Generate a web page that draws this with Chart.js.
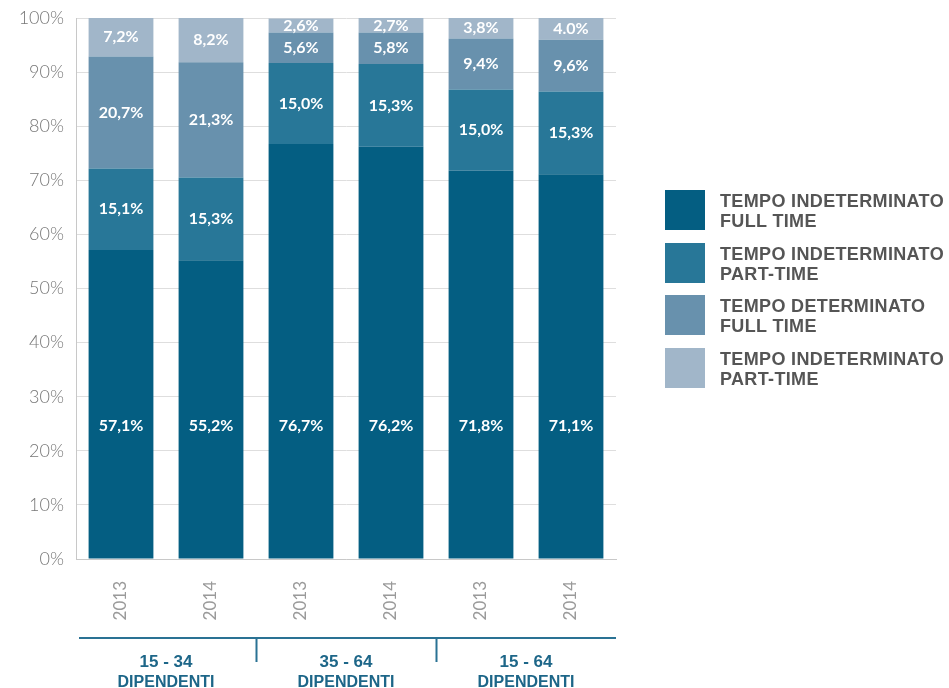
<!DOCTYPE html>
<html>
<head>
<meta charset="utf-8">
<script src="https://cdn.jsdelivr.net/npm/chart.js@4"></script>
<style>
  body { margin: 0; background: #fff; }
  #wrap { position: relative; width: 949px; height: 688px; }
  #legend { position: absolute; left: 665px; top: 190px; }
  .item { position: relative; height: 52.5px; }
  .box { position: absolute; left: 0; top: 0; width: 40px; height: 40px; }
  .txt { position: absolute; left: 55px; top: 1px; white-space: nowrap; letter-spacing: 0.35px;
         font: bold 18px "Liberation Sans", sans-serif; line-height: 20px; color: #555; }
</style>
</head>
<body>
<div id="wrap">
  <canvas id="myChart" width="949" height="688"></canvas>
  <div id="legend"></div>
</div>
<script>
const categories = ["2013", "2014", "2013", "2014", "2013", "2014"];
const groups = ["15 - 34", "35 - 64", "15 - 64"];
const groupSub = "DIPENDENTI";

const seriesNames = [
  ["TEMPO INDETERMINATO", "FULL TIME"],
  ["TEMPO INDETERMINATO", "PART-TIME"],
  ["TEMPO DETERMINATO", "FULL TIME"],
  ["TEMPO INDETERMINATO", "PART-TIME"],
];
const indetFull = [57.1, 55.2, 76.7, 76.2, 71.8, 71.1];
const indetPart = [15.1, 15.3, 15.0, 15.3, 15.0, 15.3];
const detFull = [20.7, 21.3, 5.6, 5.8, 9.4, 9.6];
const indetPart2 = [7.2, 8.2, 2.6, 2.7, 3.8, 4.0];

const colors = ["#045e82", "#287798", "#6891ad", "#a1b6c9"];

// legend in html (two line labels)
const legendEl = document.getElementById("legend");
seriesNames.forEach((name, i) => {
  const item = document.createElement("div");
  item.className = "item";
  item.innerHTML = `<div class="box" style="background:${colors[i]}"></div>` +
    `<div class="txt">${name[0]}<br>${name[1]}</div>`;
  legendEl.appendChild(item);
});

const labelPlugin = {
  id: "barLabels",
  afterDatasetsDraw(chart) {
    const ctx = chart.ctx;
    const y = chart.scales.y;
    ctx.save();
    ctx.fillStyle = "#fff";
    ctx.font = "bold 16px Lato, sans-serif";
    ctx.textAlign = "center";
    ctx.textBaseline = "middle";
    chart.data.datasets.forEach((ds, i) => {
      chart.getDatasetMeta(i).data.forEach((bar, j) => {
        let v = ds.data[j];
        let txt = v.toFixed(1);
        // last column top label uses a dot in the original
        if (!(i === 3 && j === 5)) txt = txt.replace(".", ",");
        let ly = i === 0 ? y.getPixelForValue(24.6) : (bar.y + bar.base) / 2;
        if (ly < 26) ly = 26;
        ctx.fillText(txt + "%", bar.x, ly);
      });
    });
    ctx.restore();
  },
};

const groupPlugin = {
  id: "groups",
  afterDraw(chart) {
    const ctx = chart.ctx;
    const x = chart.scales.x;
    ctx.save();
    ctx.strokeStyle = "#2a7294";
    ctx.lineWidth = 2;
    ctx.beginPath();
    ctx.moveTo(x.left + 3, 638);
    ctx.lineTo(x.right, 638);
    [1.5, 3.5].forEach((v) => {
      const px = Math.round(x.getPixelForValue(v)) + 0.5;
      ctx.moveTo(px, 638);
      ctx.lineTo(px, 662);
    });
    ctx.stroke();
    ctx.fillStyle = "#1d6688";
    ctx.textAlign = "center";
    ctx.textBaseline = "alphabetic";
    groups.forEach((g, k) => {
      const cx = x.getPixelForValue(k * 2 + 0.5);
      ctx.font = "bold 17px 'Liberation Sans', sans-serif";
      ctx.fillText(g, cx, 667);
      ctx.font = "bold 16px 'Liberation Sans Narrow', sans-serif";
      ctx.fillText(groupSub, cx, 687);
    });
    ctx.restore();
  },
};

const data = {
  labels: categories,
  datasets: [indetFull, indetPart, detFull, indetPart2].map((d, i) => ({
    label: seriesNames[i].join(" "),
    data: d,
    backgroundColor: colors[i],
    borderWidth: 0,
    barPercentage: 0.72,
    categoryPercentage: 1,
  })),
};

const config = {
  type: "bar",
  data: data,
  plugins: [labelPlugin, groupPlugin],
  options: {
    responsive: false,
    animation: false,
    layout: {
      padding: { top: 18, right: 333, left: 0, bottom: 0 },
    },
    plugins: {
      legend: { display: false },
      tooltip: { enabled: false },
    },
    scales: {
      x: {
        stacked: true,
        grid: { display: false },
        border: { display: true, color: "#c8c8c8" },
        ticks: {
          color: "#9a9a9a",
          font: { family: "Lato", size: 17 },
          minRotation: 90,
          maxRotation: 90,
          padding: 14,
        },
        afterFit: (scale) => {
          scale.height = 129;
        },
      },
      y: {
        stacked: true,
        min: 0,
        max: 100,
        grid: { color: "#dedede", drawTicks: false },
        border: { display: true, color: "#c8c8c8" },
        ticks: {
          stepSize: 10,
          color: "#777",
          padding: 12,
          font: { family: "Lato", size: 18, weight: "300" },
          callback: (value) => `${value}%`,
        },
        afterFit: (scale) => {
          scale.width = 76;
          scale.paddingTop = 0;
          scale.paddingBottom = 0;
        },
      },
    },
  },
};

const myChart = new Chart(document.getElementById("myChart").getContext("2d"), config);
</script>
</body>
</html>
